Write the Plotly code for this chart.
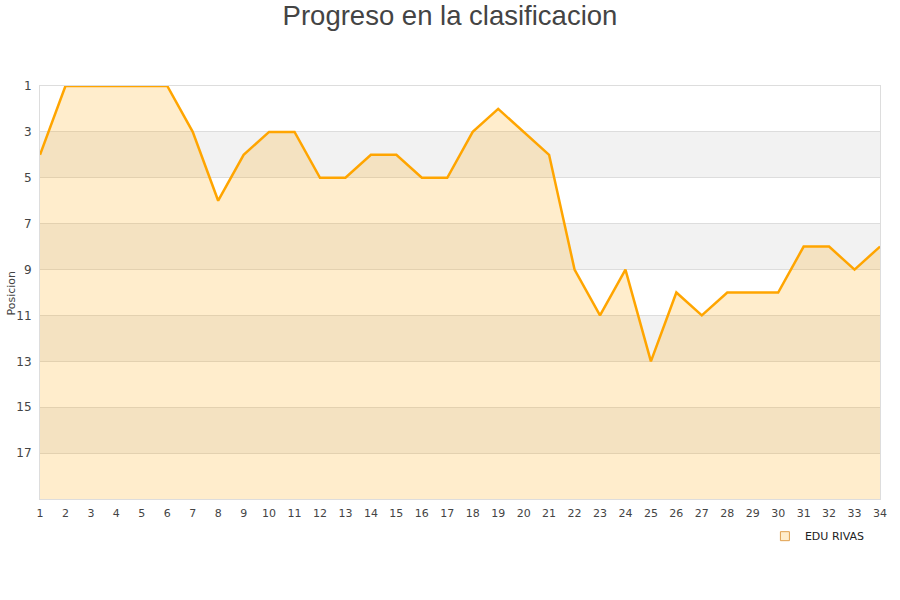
import plotly.graph_objects as go

jornadas = list(range(1, 35))
posicion = [4, 1, 1, 1, 1, 1, 3, 6, 4, 3, 3, 5, 5, 4, 4, 5, 5, 3, 2, 3, 4,
            9, 11, 9, 13, 10, 11, 10, 10, 10, 8, 8, 9, 8]
equipo = "EDU RIVAS"
y_ticks = [1, 3, 5, 7, 9, 11, 13, 15, 17]
bandas = [(3, 5), (7, 9), (11, 13), (15, 17)]
fondo = 19

fig = go.Figure()
fig.add_trace(go.Scatter(x=jornadas, y=[fondo] * len(jornadas), mode="lines",
                         line=dict(width=0), showlegend=False, hoverinfo="skip"))
fig.add_trace(go.Scatter(x=jornadas, y=posicion, mode="lines", fill="tonexty",
                         fillcolor="rgba(255,165,0,0.2)",
                         line=dict(color="#FFA500", width=2.5),
                         showlegend=False, name=equipo))
fig.add_trace(go.Scatter(x=[None], y=[None], mode="markers", name=equipo,
                         marker=dict(symbol="square", size=9, color="#ffedcc",
                                     line=dict(color="#e0a050", width=1))))

for a, b in bandas:
    fig.add_shape(type="rect", xref="paper", x0=0, x1=1, yref="y", y0=a, y1=b,
                  fillcolor="#f2f2f2", line=dict(width=0), layer="below")

fig.add_annotation(text="Posicion", xref="paper", yref="paper",
                   x=-29 / 840, y=0.5, xanchor="center", yanchor="middle",
                   textangle=-90, showarrow=False,
                   font=dict(size=11, color="#444"))

fig.update_layout(
    width=900, height=600,
    paper_bgcolor="white", plot_bgcolor="white",
    margin=dict(l=40, r=20, t=86, b=101, autoexpand=False),
    title=dict(text="Progreso en la clasificacion", x=0.5, xanchor="center",
               y=0.975, yanchor="middle",
               font=dict(family="Liberation Sans, Arial", size=27.5, color="#444")),
    font=dict(family="DejaVu Sans, Arial", size=11, color="#444"),
    legend=dict(orientation="h", x=0.863, xanchor="left", y=-0.09, yanchor="middle",
                font=dict(size=11, color="#222"), bgcolor="rgba(0,0,0,0)"),
    xaxis=dict(range=[1, 34], tickmode="array", tickvals=jornadas, showgrid=False,
               zeroline=False, showline=True, linecolor="#ddd", mirror=True,
               ticks="", automargin=False, ticklabelstandoff=4,
               tickfont=dict(size=11, color="#444")),
    yaxis=dict(range=[fondo, 1], tickmode="array", tickvals=y_ticks,
               showgrid=True, gridcolor="#ddd", zeroline=False,
               showline=True, linecolor="#ddd", mirror=True, ticks="",
               automargin=False, ticklabelstandoff=5,
               tickfont=dict(size=12, color="#444")),
)

fig.write_html("out.html", config={"displayModeBar": False},
               post_script="document.body.style.margin='0';")
